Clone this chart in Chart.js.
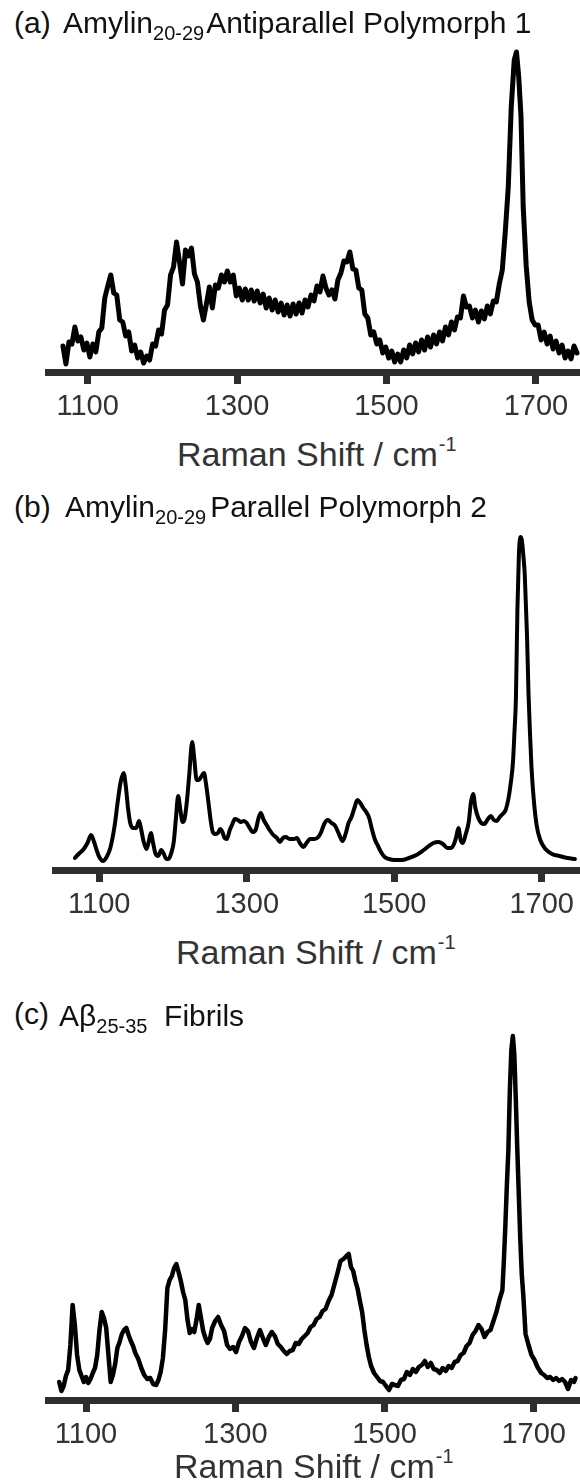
<!DOCTYPE html>
<html>
<head>
<meta charset="utf-8">
<script src="https://cdn.jsdelivr.net/npm/chart.js@4.4.1/dist/chart.umd.min.js"></script>
<style>
body { margin: 0; background: #fff; }
#page { position: relative; width: 580px; height: 1484px; overflow: hidden; font-family: "Liberation Sans", Arial, sans-serif; }
.plot { position: absolute; left: 0; width: 580px; }
.tag, .name { position: absolute; font-size: 30px; line-height: 30px; color: #111; white-space: nowrap; }
.name .sub { font-size: 20px; position: relative; top: 7px; }
.xtitle { position: absolute; font-size: 34px; line-height: 34px; color: #333; white-space: nowrap; }
.xtitle .sup { font-size: 20px; position: relative; top: -15px; margin-left: 1px; }
</style>
</head>
<body>
<div id="page">
  <div class="plot" style="top:40px;height:392px"><canvas id="specA"></canvas></div>
  <div class="plot" style="top:525px;height:405px"><canvas id="specB"></canvas></div>
  <div class="plot" style="top:1030px;height:430px"><canvas id="specC"></canvas></div>

  <div class="tag" style="left:14px;top:8px">(a)</div>
  <div class="name" style="left:63px;top:8px">Amylin<span class="sub" style="margin-right:2px">20-29</span>Antiparallel Polymorph 1</div>
  <div class="tag" style="left:14px;top:492px">(b)</div>
  <div class="name" style="left:65px;top:492px">Amylin<span class="sub" style="margin-right:4px">20-29</span>Parallel Polymorph 2</div>
  <div class="tag" style="left:14px;top:999px">(c)</div>
  <div class="name" style="left:59px;top:1001px">Aβ<span class="sub">25-35</span>&nbsp;&nbsp;Fibrils</div>

  <div class="xtitle" style="left:177px;top:437px">Raman Shift / cm<span class="sup">-1</span></div>
  <div class="xtitle" style="left:176px;top:935px">Raman Shift / cm<span class="sup">-1</span></div>
  <div class="xtitle" style="left:174px;top:1449px">Raman Shift / cm<span class="sup">-1</span></div>
</div>

<script>
// tick positions shared by all three spectra
const tickValues = [1100, 1300, 1500, 1700];

// (a) antiparallel polymorph 1 - noisy spectrum
const shiftA = [
1067,1071,1075,1079,1083,1087,1091,1095,1099,1103,
1107,1111,1115,1119,1123,1127,1131,1135,1139,1143,
1147,1151,1155,1159,1163,1167,1171,1175,1179,1183,
1187,1191,1195,1199,1203,1207,1211,1215,1219,1223,
1227,1231,1235,1239,1243,1247,1251,1255,1259,1263,
1267,1271,1275,1279,1283,1287,1291,1295,1299,1303,
1307,1311,1315,1319,1323,1327,1331,1335,1339,1343,
1347,1351,1355,1359,1363,1367,1371,1375,1379,1383,
1387,1391,1395,1399,1403,1407,1411,1415,1419,1423,
1427,1431,1435,1439,1443,1447,1451,1455,1459,1463,
1467,1471,1475,1479,1483,1487,1491,1495,1499,1503,
1507,1511,1515,1519,1523,1527,1531,1535,1539,1543,
1547,1551,1555,1559,1563,1567,1571,1575,1579,1583,
1587,1591,1595,1599,1603,1607,1611,1615,1619,1623,
1627,1631,1635,1639,1643,1647,1651,1655,1659,1663,
1667,1671,1674,1677,1680,1683,1687,1691,1695,1699,
1703,1707,1711,1715,1719,1723,1727,1731,1735,1739,
1743,1747,1751,1755];
const intensityA = [
26,8,30,28,45,31,35,22,29,15,
28,20,40,44,74,86,97,79,77,52,
50,36,40,21,27,14,20,9,16,12,
28,26,42,38,62,67,97,105,130,110,
88,122,116,124,98,90,66,52,68,85,
64,87,84,97,90,101,90,97,76,84,
72,83,72,82,71,81,69,78,64,74,
62,72,60,69,57,67,56,68,58,69,
59,72,65,77,71,86,80,96,84,77,
82,73,92,99,111,110,120,103,102,84,
82,58,54,37,40,28,32,19,25,14,
21,10,18,10,22,14,27,18,29,20,
32,22,35,25,37,28,40,31,45,37,
50,42,55,54,76,65,66,54,62,50,
61,53,66,58,71,70,88,102,140,185,
265,312,320,295,256,165,106,70,52,47,
47,32,40,28,36,23,31,19,27,14,
21,13,26,19];

// (b) parallel polymorph 2 - smooth spectrum
const shiftB = [
1067,1072,1079,1084,1089,1093,1096,1100,1105,1110,
1115,1121,1125,1129,1133,1136,1139,1142,1146,1150,
1154,1157,1160,1164,1167,1170,1173,1176,1180,1184,
1187,1191,1194,1198,1201,1204,1207,1210,1213,1216,
1219,1222,1226,1229,1232,1235,1238,1242,1245,1248,
1251,1254,1258,1261,1264,1267,1270,1273,1277,1280,
1284,1288,1292,1296,1300,1304,1308,1312,1316,1319,
1323,1327,1331,1336,1341,1345,1349,1353,1358,1364,
1368,1372,1377,1381,1386,1392,1397,1401,1405,1410,
1415,1420,1425,1430,1434,1438,1442,1446,1450,1454,
1458,1462,1466,1470,1474,1478,1482,1487,1493,1500,
1510,1520,1530,1540,1547,1553,1560,1566,1572,1577,
1581,1584,1587,1590,1593,1597,1601,1604,1607,1610,
1614,1618,1622,1627,1631,1635,1639,1643,1647,1651,
1655,1658,1661,1663,1665,1667,1669,1671,1673,1675,
1677,1680,1682,1684,1686,1689,1693,1698,1705,1714,
1724,1735,1745];
const intensityB = [
12,16,21,27,35,28,21,13,9,13,
22,45,68,88,97,84,62,47,42,42,
49,40,29,21,28,37,27,17,14,20,
17,11,11,18,28,52,74,60,48,52,
70,95,128,110,90,90,93,97,85,68,
50,38,36,37,41,38,32,31,40,45,
51,50,48,49,47,42,38,40,52,57,
50,45,40,35,32,28,32,33,31,31,
32,27,23,27,31,31,33,38,46,50,
47,44,36,29,36,47,53,62,70,67,
62,58,52,40,30,24,18,13,11,10,
10,12,15,20,24,27,28,26,22,22,
26,33,42,30,27,36,48,68,76,62,
52,47,46,51,54,50,49,53,56,60,
72,87,108,138,172,260,315,333,330,315,
295,235,178,138,104,72,45,30,21,16,
14,12,11];

// (c) Abeta 25-35 fibrils
const shiftC = [
1064,1067,1070,1073,1076,1079,1082,1085,1088,1091,
1094,1097,1100,1103,1106,1109,1112,1115,1118,1121,
1124,1127,1130,1133,1136,1139,1142,1145,1148,1151,
1154,1157,1160,1163,1166,1170,1174,1178,1182,1186,
1190,1194,1197,1200,1203,1206,1209,1212,1215,1218,
1221,1224,1227,1230,1233,1236,1239,1242,1245,1248,
1251,1254,1257,1260,1263,1266,1269,1273,1277,1281,
1285,1289,1293,1297,1301,1305,1309,1313,1317,1321,
1325,1329,1333,1337,1341,1345,1349,1353,1357,1361,
1365,1369,1373,1377,1381,1385,1389,1393,1397,1401,
1405,1409,1413,1417,1421,1425,1429,1433,1437,1441,
1445,1449,1452,1455,1458,1461,1464,1467,1470,1473,
1476,1479,1482,1486,1490,1494,1498,1502,1506,1510,
1514,1518,1522,1526,1530,1534,1538,1542,1546,1550,
1554,1558,1562,1566,1570,1574,1578,1582,1586,1590,
1594,1598,1602,1606,1610,1614,1618,1622,1626,1630,
1634,1638,1642,1646,1650,1654,1658,1660,1662,1664,
1666,1668,1670,1672,1674,1676,1678,1680,1682,1684,
1686,1689,1693,1697,1701,1705,1710,1714,1718,1722,
1726,1730,1734,1738,1742,1746,1750,1754,1756];
const intensityC = [
18,9,14,24,30,55,95,75,45,30,
24,18,23,17,21,27,32,45,70,88,
82,72,45,18,25,36,52,58,66,70,
72,65,59,54,47,41,32,25,21,22,
16,15,20,28,42,70,112,120,124,132,
136,128,119,108,100,80,67,71,68,80,
95,82,69,62,57,61,72,79,83,75,
69,55,51,53,48,58,64,72,69,58,
52,62,70,62,55,63,68,64,56,53,
49,46,49,50,57,56,61,64,67,73,
75,81,83,89,91,99,105,116,127,139,
141,144,146,133,129,119,111,99,88,70,
55,43,34,27,23,19,18,14,10,16,
15,14,20,21,28,25,31,28,33,35,
39,33,37,31,30,27,32,29,34,32,
38,39,45,47,54,57,65,69,75,71,
63,68,70,79,88,100,110,140,175,215,
250,310,350,364,345,300,250,205,160,125,
105,66,55,45,40,33,27,25,22,23,
20,22,19,21,18,11,20,18,22];

const tickFont = { family: '"Liberation Sans", Arial, sans-serif', size: 29 };

function drawSpectrum(id, shifts, values, xMin, xMax, yMax, padLeft, lineWidth, smooth) {
    const points = shifts.map((s, i) => ({ x: s, y: values[i] }));

    return new Chart(document.getElementById(id), {
        type: 'line',
        data: {
            datasets: [{
                data: points,
                borderColor: '#000',
                borderWidth: lineWidth,
                pointRadius: 0,
                fill: false,
                tension: smooth ? 0.4 : 0,
                cubicInterpolationMode: smooth ? 'monotone' : 'default',
                borderJoinStyle: 'round',
                borderCapStyle: 'round'
            }]
        },
        options: {
            responsive: true,
            maintainAspectRatio: false,
            animation: false,
            layout: { padding: { left: padLeft, right: 0, top: 0, bottom: 0 } },
            plugins: { legend: { display: false }, tooltip: { enabled: false } },
            scales: {
                x: {
                    type: 'linear',
                    min: xMin,
                    max: xMax,
                    afterBuildTicks: scale => {
                        scale.ticks = tickValues.map(v => ({ value: v }));
                    },
                    afterFit: scale => { scale.height = 60; },
                    ticks: {
                        callback: v => String(v),
                        color: '#333',
                        font: tickFont,
                        padding: 6,
                        maxRotation: 0,
                        autoSkip: false
                    },
                    grid: { drawOnChartArea: false, tickLength: 12, lineWidth: 7, color: '#2e2e2e' },
                    border: { width: 7, color: '#2e2e2e' }
                },
                y: { display: false, min: 0, max: yMax }
            }
        }
    });
}

drawSpectrum('specA', shiftA, intensityA, 1047, 1759, 332, 48, 5, false);
drawSpectrum('specB', shiftB, intensityB, 1040, 1750, 345, 55, 4, true);
drawSpectrum('specC', shiftC, intensityC, 1049, 1762, 370, 48, 4.5, false);
</script>
</body>
</html>
